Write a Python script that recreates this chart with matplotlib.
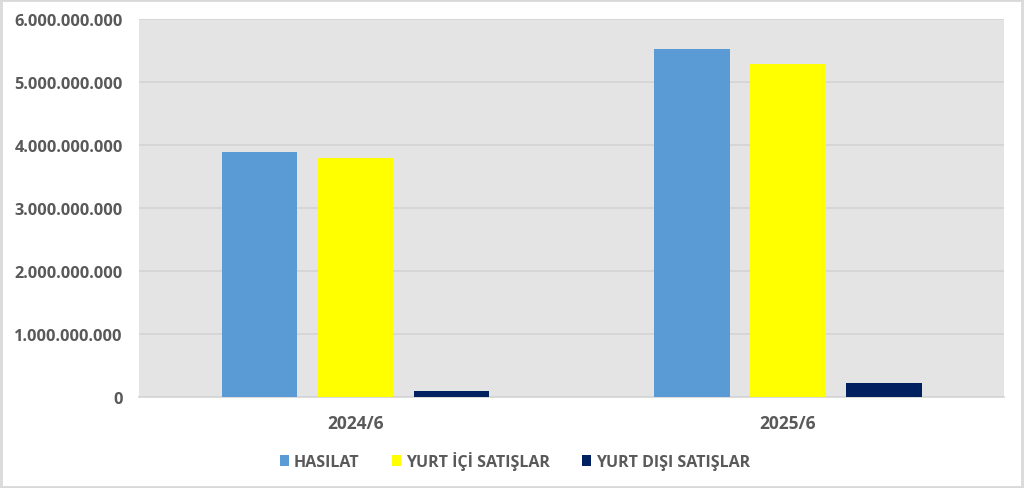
import matplotlib
matplotlib.use("Agg")
import matplotlib.pyplot as plt
import numpy as np
from matplotlib.ticker import FuncFormatter
from matplotlib.patches import Rectangle

categories = ["2024/6", "2025/6"]
series_names = ["HASILAT", "YURT İÇİ SATIŞLAR", "YURT DIŞI SATIŞLAR"]
hasilat = [3.895e9, 5.524e9]
yurt_ici = [3.79e9, 5.287e9]
yurt_disi = [0.105e9, 0.227e9]
colors = ["#5B9BD5", "#FFFF00", "#002060"]

plt.rcParams['font.family'] = ['Open Sans', 'DejaVu Sans']

fig = plt.figure(figsize=(10.24, 4.89), dpi=100)
ax = fig.add_axes([139.3/1024, 1-398.3/489, (1004-139.3)/1024, (398.3-20)/489])
ax.set_facecolor("#E4E4E4")

x = np.arange(len(categories))
w = 0.1744
step = 0.222
for i, (vals, name, c) in enumerate(zip([hasilat, yurt_ici, yurt_disi], series_names, colors)):
    ax.bar(x + (i-1)*step, vals, width=w, color=c, label=name, zorder=3)

ax.set_xlim(-0.5, 1.5)
ax.set_ylim(0, 6e9)
ax.set_yticks(np.arange(0, 6.01e9, 1e9))
ax.yaxis.set_major_formatter(FuncFormatter(lambda v, p: f"{int(round(v)):,}".replace(",", ".")))
ax.grid(axis='y', color="#D4D4D4", linewidth=1.2, zorder=0)
ax.set_axisbelow(True)
for s in ["top", "right", "left"]:
    ax.spines[s].set_visible(False)
ax.spines["bottom"].set_color("#D4D4D4")
ax.spines["bottom"].set_linewidth(1.2)
ax.set_xticks(x)
ax.set_xticklabels(categories)
ax.tick_params(axis='y', length=0, colors="#595959", labelsize=11.8, pad=12)
ax.tick_params(axis='x', length=0, colors="#595959", labelsize=12.5, pad=12)
for lbl in ax.get_xticklabels() + ax.get_yticklabels():
    lbl.set_fontweight("bold")

leg = fig.legend(loc="center", bbox_to_anchor=(515/1024, 1-461.7/489), ncol=3, frameon=False,
                 handlelength=0.6, handleheight=0.6, handletextpad=0.3, columnspacing=2.0,
                 prop={'weight': 'bold', 'size': 11.5})
for t in leg.get_texts():
    t.set_color("#595959")

fig.patches.append(Rectangle((0.001, 0.002), 0.997, 0.995, transform=fig.transFigure,
                             fill=False, edgecolor="#D9D9D9", linewidth=2))

fig.savefig("out.png", dpi=100, facecolor="white")
